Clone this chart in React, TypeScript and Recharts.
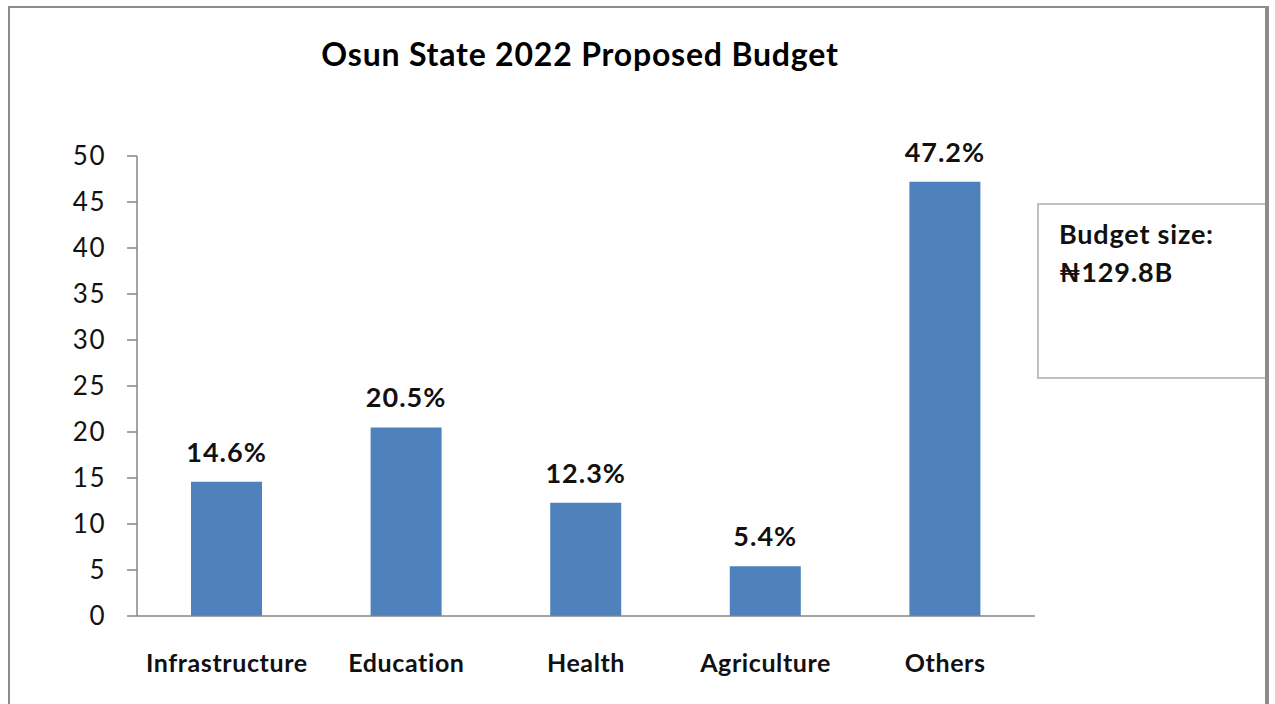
import React from 'react';
import { BarChart, Bar, XAxis, YAxis, LabelList } from 'recharts';

const categories = ['Infrastructure', 'Education', 'Health', 'Agriculture', 'Others'];
const shares = [14.6, 20.5, 12.3, 5.4, 47.2];
const yTicks = [0, 5, 10, 15, 20, 25, 30, 35, 40, 45, 50];
const bandTicks = [0, 1, 2, 3, 4, 5];

const data = categories.map((name, i) => ({ name, share: shares[i] }));

const FONT = 'Lato, "Open Sans", "DejaVu Sans", sans-serif';
const AXIS = '#868686';

const App: React.FC = () => {
  return (
    <div style={{ position: 'absolute', left: 0, top: 0, width: 1275, height: 704, overflow: 'hidden', background: '#fff' }}>
      <div
        style={{
          position: 'absolute',
          left: 8,
          top: 6,
          width: 1257,
          height: 720,
          border: '2px solid #8c8c8c',
        }}
      />
      <div
        style={{
          position: 'absolute',
          left: 0,
          top: 34,
          width: 1160,
          textAlign: 'center',
          fontFamily: FONT,
          fontWeight: 700,
          fontSize: 32,
          letterSpacing: 0.8,
          color: '#000',
        }}
      >
        Osun State 2022 Proposed Budget
      </div>
      <BarChart
        width={1275}
        height={704}
        data={data}
        margin={{ top: 156, right: 240, left: 77, bottom: 28 }}
        style={{ position: 'absolute', left: 0, top: 0 }}
      >
        <XAxis
          xAxisId="band"
          type="number"
          domain={[0, 5]}
          ticks={bandTicks}
          allowDataOverflow
          height={1}
          tick={false}
          tickSize={10}
          stroke={AXIS}
          axisLine={{ stroke: AXIS, strokeWidth: 1.5 }}
          tickLine={{ stroke: AXIS, strokeWidth: 1.5 }}
        />
        <XAxis
          xAxisId="cat"
          dataKey="name"
          height={59}
          axisLine={false}
          tickLine={false}
          tickSize={0}
          tickMargin={37}
          interval={0}
          tick={{ fontFamily: FONT, fontSize: 25, fontWeight: 700, fill: '#111', letterSpacing: 0.6 }}
        />
        <YAxis
          width={60}
          domain={[0, 50]}
          ticks={yTicks}
          interval={0}
          tickSize={10}
          tickMargin={21}
          axisLine={{ stroke: AXIS, strokeWidth: 1.5 }}
          tickLine={{ stroke: AXIS, strokeWidth: 1.5 }}
          tick={{ fontFamily: FONT, fontSize: 26, fill: '#111', letterSpacing: 1.5 }}
        />
        <Bar xAxisId="cat" dataKey="share" fill="#4F81BD" barSize={71} isAnimationActive={false}>
          <LabelList
            dataKey="share"
            position="top"
            offset={20}
            formatter={(v: number) => `${v}%`}
            style={{ fontFamily: FONT, fontSize: 27, fontWeight: 700, fill: '#111', letterSpacing: 1 }}
          />
        </Bar>
      </BarChart>
      <div
        style={{
          position: 'absolute',
          left: 1037,
          top: 203,
          width: 230,
          height: 176,
          border: '2px solid #c0c0c0',
          background: '#fff',
          fontFamily: FONT,
          fontWeight: 700,
          fontSize: 27,
          letterSpacing: 0.8,
          lineHeight: '38px',
          color: '#111',
          paddingLeft: 20,
          paddingTop: 10,
          boxSizing: 'border-box',
        }}
      >
        Budget size:
        <br />
        ₦129.8B
      </div>
      <div
        style={{
          position: 'absolute',
          left: 1265,
          top: 6,
          width: 2,
          height: 720,
          background: '#8c8c8c',
        }}
      />
    </div>
  );
};

export default App;
